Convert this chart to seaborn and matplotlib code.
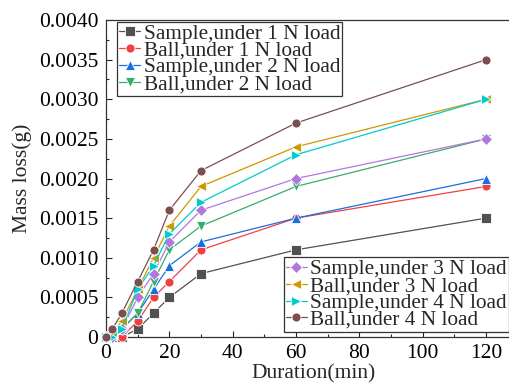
import matplotlib
matplotlib.use("Agg")
import matplotlib.pyplot as plt
from matplotlib.ticker import MultipleLocator, FuncFormatter
import pandas as pd
import seaborn as sns

# Test durations (min)
duration = [0, 2, 5, 10, 15, 20, 30, 60, 120]

# Mass loss (g) for each specimen / load combination
sample_1n = [0, 0.0000, 0.0000, 0.0001, 0.0003, 0.0005, 0.0008, 0.0011, 0.0015]
ball_1n = [0, 0.0000, 0.0000, 0.0002, 0.0005, 0.0007, 0.0011, 0.0015, 0.0019]
sample_2n = [0, 0.0000, 0.0001, 0.0003, 0.0006, 0.0009, 0.0012, 0.0015, 0.0020]
ball_2n = [0, 0.0000, 0.0001, 0.0003, 0.0007, 0.0011, 0.0014, 0.0019, 0.0025]
sample_3n = [0, 0.0000, 0.0001, 0.0005, 0.0008, 0.0012, 0.0016, 0.0020, 0.0025]
ball_3n = [0, 0.00005, 0.0002, 0.0006, 0.0010, 0.0014, 0.0019, 0.0024, 0.0030]
sample_4n = [0, 0.0000, 0.0001, 0.0006, 0.0009, 0.0013, 0.0017, 0.0023, 0.0030]
ball_4n = [0, 0.0001, 0.0003, 0.0007, 0.0011, 0.0016, 0.0021, 0.0027, 0.0035]

series_labels = [
    "Sample,under 1 N load", "Ball,under 1 N load",
    "Sample,under 2 N load", "Ball,under 2 N load",
    "Sample,under 3 N load", "Ball,under 3 N load",
    "Sample,under 4 N load", "Ball,under 4 N load",
]
series_values = [sample_1n, ball_1n, sample_2n, ball_2n,
                 sample_3n, ball_3n, sample_4n, ball_4n]

colors = ["#515151", "#F14040", "#1A6FDF", "#37AD6B",
          "#B177DE", "#CC9900", "#00CBCC", "#7D4E4E"]
markers = ["s", "o", "^", "v", "D", "<", ">", "o"]

df = pd.concat(
    [pd.DataFrame({"Duration": duration, "Mass loss": vals, "Series": name})
     for name, vals in zip(series_labels, series_values)],
    ignore_index=True,
)

sns.set_style("ticks")
plt.rcParams["font.family"] = ["Liberation Serif", "DejaVu Serif"]

W, H = 510, 386
fig = plt.figure(figsize=(W / 100, H / 100), dpi=100)
ax = fig.add_axes([106 / W, (H - 337) / H, 415 / W, 317 / H])

sns.lineplot(
    data=df, x="Duration", y="Mass loss", hue="Series", style="Series",
    hue_order=series_labels, style_order=series_labels,
    palette=dict(zip(series_labels, colors)),
    markers=dict(zip(series_labels, markers)),
    dashes=False, linewidth=0.9, markersize=6.5, markeredgewidth=0.6,
    ax=ax, legend=True, clip_on=False, zorder=3,
)

ax.set_xlim(0, 131)
ax.set_ylim(0, 0.0040)
ax.xaxis.set_major_locator(MultipleLocator(20))
ax.xaxis.set_minor_locator(MultipleLocator(10))
ax.yaxis.set_major_locator(MultipleLocator(0.0005))
ax.yaxis.set_minor_locator(MultipleLocator(0.00025))
ax.yaxis.set_major_formatter(
    FuncFormatter(lambda v, _: "0" if abs(v) < 1e-12 else f"{v:.4f}"))
ax.tick_params(which="both", direction="in", labelsize=15.5, colors="#222222",
               labelcolor="black")
ax.tick_params(axis="y", which="major", pad=5.5)
ax.tick_params(axis="x", which="major", pad=5)
ax.tick_params(which="major", length=4, width=0.8)
ax.tick_params(which="minor", length=2.5, width=0.8)
for sp in ax.spines.values():
    sp.set_linewidth(0.9)
    sp.set_color("#333333")

ax.set_xlabel("Duration(min)", fontsize=15.5, labelpad=1)
ax.set_ylabel("Mass loss(g)", fontsize=15.5, labelpad=5)

handles, labels = ax.get_legend_handles_labels()
ax.get_legend().remove()
legend_kw = dict(fontsize=15.3, frameon=True, fancybox=False, framealpha=1,
                 edgecolor="#333333", labelspacing=-0.14, handlelength=1.0,
                 handletextpad=0.15, borderpad=0.1, borderaxespad=0.0,
                 bbox_transform=fig.transFigure)
leg1 = ax.legend(handles[:4], labels[:4], loc="upper left",
                 bbox_to_anchor=(117 / W, 1 - 21.5 / H), **legend_kw)
leg1.get_frame().set_linewidth(0.9)
ax.add_artist(leg1)
leg2 = ax.legend(handles[4:], labels[4:], loc="lower left",
                 bbox_to_anchor=(283.5 / W, 1 - 332 / H), **legend_kw)
leg2.get_frame().set_linewidth(0.9)

fig.savefig("out.png", dpi=100)
